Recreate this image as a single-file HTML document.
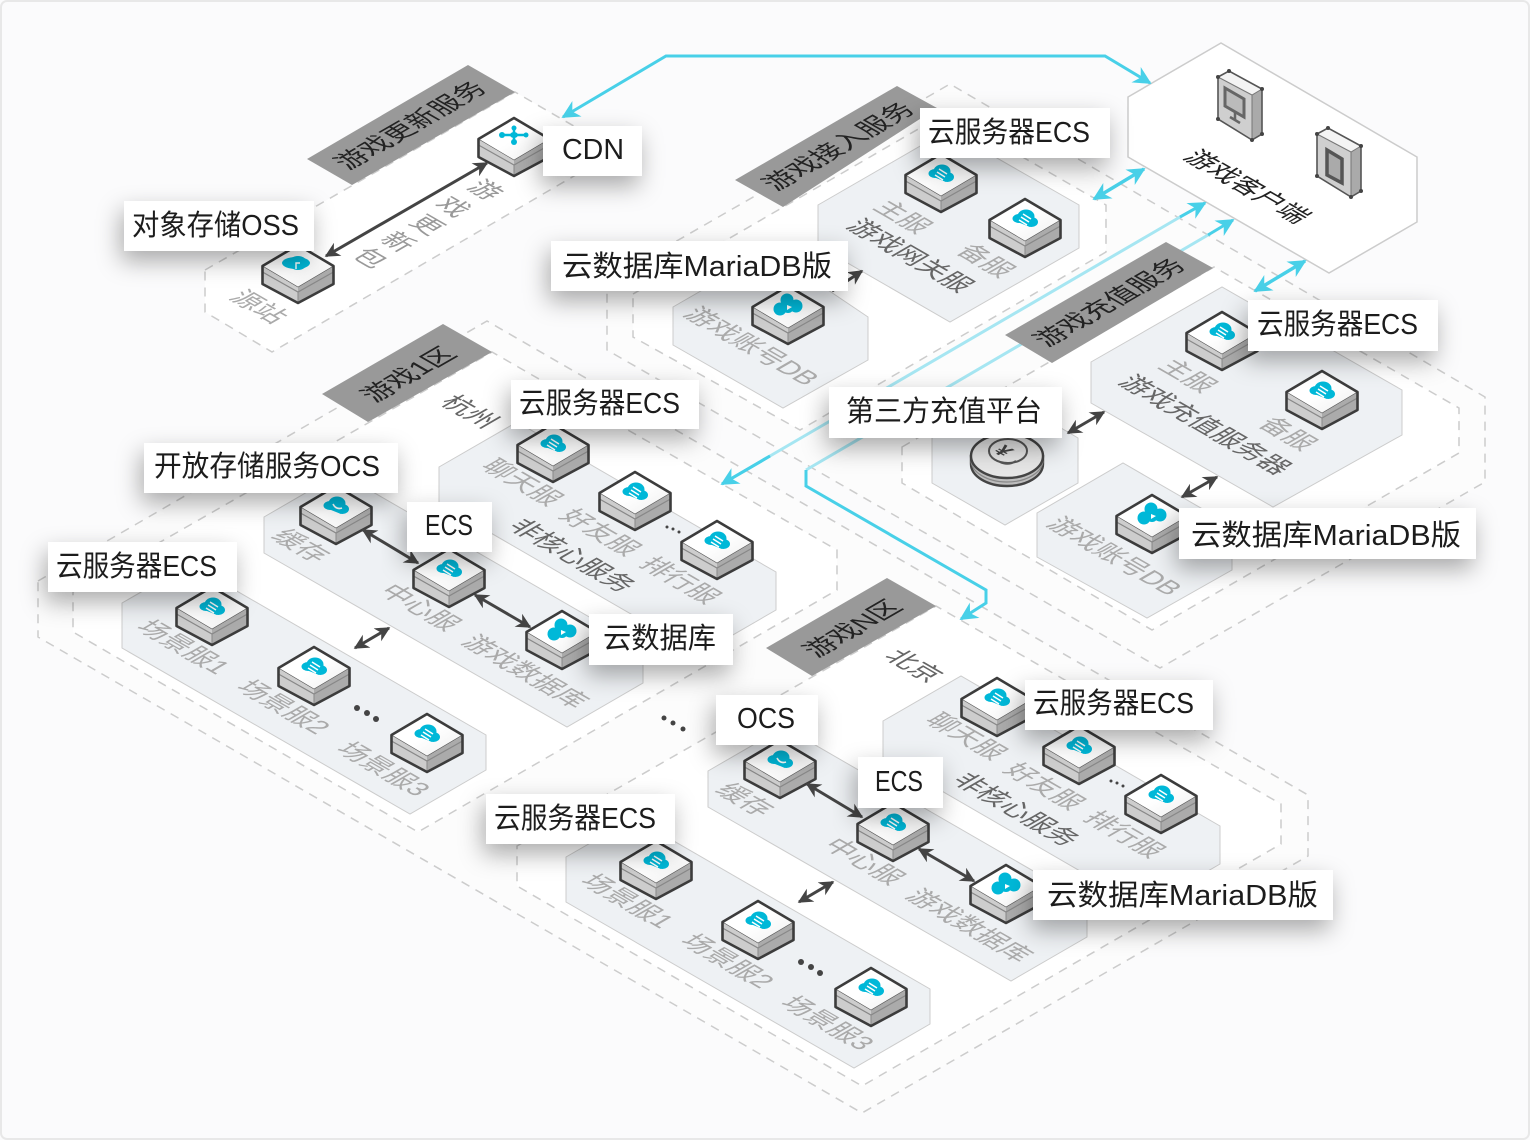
<!DOCTYPE html>
<html><head><meta charset="utf-8"><style>
html,body{margin:0;padding:0;background:#fbfbfc}
svg{display:block}
text{font-family:"Liberation Sans","Noto Sans CJK SC",sans-serif}
.l{font-size:29px;fill:#1c1c1c}
.f{font-size:26.5px;fill:#aaa}
.d{font-size:26.5px;fill:#666}
.b{font-size:27px;fill:#222;text-anchor:middle}
.dash{stroke:#ccc;stroke-width:1.5;stroke-dasharray:9 7}
.panel{fill:#eef1f4;stroke:#ccc;stroke-width:1}
</style></head><body>
<svg width="1530" height="1140" viewBox="0 0 1530 1140" xmlns="http://www.w3.org/2000/svg">
<defs>
<filter id="sh" x="-30%" y="-70%" width="160%" height="280%"><feDropShadow dx="-3" dy="10" stdDeviation="12" flood-color="#000" flood-opacity=".33"/></filter>
<marker id="ma" viewBox="0 0 10 10" refX="9" refY="5" markerWidth="20" markerHeight="15" markerUnits="userSpaceOnUse" orient="auto-start-reverse"><path d="M10,5L0,0L3,5L0,10z" fill="#444"/></marker>
<marker id="mc" viewBox="0 0 10 10" refX="9" refY="5" markerWidth="26" markerHeight="18" markerUnits="userSpaceOnUse" orient="auto-start-reverse"><path d="M10,5L0,0L3,5L0,10z" fill="#48d0e8"/></marker>
<linearGradient id="tf" x1="0" y1="0" x2="1" y2="1"><stop offset=".5" stop-color="#fff"/><stop offset="1" stop-color="#eee"/></linearGradient>
<g id="box">
<polygon points="-35.5,0 0,21 0,37 -35.5,18" fill="#cdcdcd"/>
<polygon points="35.5,0 0,21 0,37 35.5,18" fill="#ababab"/>
<polyline points="-35.5,6 0,26 35.5,6" fill="none" stroke="#888" stroke-width="1.2"/>
<line x1="0" y1="26" x2="0" y2="37" stroke="#888" stroke-width="1"/>
<polygon points="0,-21 35.5,0 0,21 -35.5,0" fill="url(#tf)" stroke="#555" stroke-width=".6"/>
<polygon points="0,-21 35.5,0 35.5,18 0,37 -35.5,18 -35.5,0" fill="none" stroke="#3c3c3c" stroke-width="2.6" stroke-linejoin="round"/>
</g>
<g id="cloud"><ellipse cx="1" cy="-3.5" rx="8.5" ry="7" fill="#00b8d8"/><ellipse cx="-6" cy="-1.5" rx="6.5" ry="4.5" fill="#00b8d8"/><ellipse cx="6.5" cy="2" rx="6.5" ry="5" fill="#00b8d8"/><polygon points="-10,1 0,-5 11,3 5,7" fill="#00b8d8"/></g>
<g id="srv"><use href="#box"/><use href="#cloud"/><path d="M-2,-6L6,-1M-4,-3L4,2M-6,0L2,5" stroke="#fff" stroke-width="1.5" fill="none"/></g>
<g id="ocs"><use href="#box"/><use href="#cloud"/><path d="M-3,-3Q0,3 6,1" stroke="#fff" stroke-width="1.6" fill="none"/></g>
<g id="oss"><use href="#box"/><ellipse cx="-2" cy="-3" rx="14" ry="6" fill="#00b8d8"/><ellipse cx="0" cy="-3" rx="9" ry="7" fill="#00b8d8"/><path d="M-2,3L-2,-3L2,-3" stroke="#fff" stroke-width="1.4" fill="none"/></g>
<g id="db"><use href="#box"/><circle cx="-1" cy="-7" r="6.5" fill="#00b8d8"/><circle cx="-8" cy="2" r="6.5" fill="#00b8d8"/><circle cx="8" cy="-1" r="6.5" fill="#00b8d8"/><circle cx="0" cy="0" r="6" fill="#00b8d8"/><path d="M-1,-2L4,0L-1,3z" fill="#fff"/></g>
<g id="net"><use href="#box"/><path d="M-12,-4L12,-4M0,-11L0,3" stroke="#00b8d8" stroke-width="2.5"/><ellipse cx="0" cy="-4" rx="4" ry="3" fill="#00b8d8"/><circle cx="-12" cy="-4" r="3" fill="#00b8d8"/><circle cx="12" cy="-4" r="2.5" fill="#00b8d8"/><circle cx="0" cy="-11" r="2.5" fill="#00b8d8"/><circle cx="0" cy="3" r="3" fill="#00b8d8"/></g>
<g id="dev">
<polygon points="0,0 34,18 34,63 0,42" fill="#cfcfcf"/><polygon points="34,18 44,12 44,57 34,63" fill="#aaa"/><polygon points="0,0 11,-6 44,12 34,18" fill="#f4f4f4"/>
<polygon points="0,0 11,-6 44,12 44,57 34,63 0,42" fill="none" stroke="#555" stroke-width="1.6"/><path d="M0,0L34,18L44,12M34,18L34,63" fill="none" stroke="#777" stroke-width="1"/>
<g fill="#444"><circle cx="0" cy="0" r="2"/><circle cx="11" cy="-6" r="2"/><circle cx="44" cy="12" r="2"/><circle cx="34" cy="63" r="2"/><circle cx="44" cy="57" r="2"/><circle cx="0" cy="42" r="2"/></g>
</g>
</defs>
<rect x="1" y="1" width="1528" height="1138" rx="6" fill="#fbfbfc" stroke="#e8e8e8" stroke-width="2"/>

<!-- zones -->
<polygon class="dash" fill="#fcfcfc" points="607,281 950,84 1485,397 1485,482 1160,668 607,350"/>
<polygon class="dash" fill="#fff" points="633,294 946,113 1106,205 1106,252 800,430 633,337"/>
<polygon class="dash" fill="#fff" points="902,447 1214,267 1459,408 1459,453 1152,630 902,483"/>
<polygon class="dash" fill="#fcfcfc" points="38,581 487,321 1308,795 1308,856 862,1113 38,637"/>
<polygon class="dash" fill="#fff" points="73,592 492,352 837,550 837,590 418,832 73,632"/>
<polygon class="dash" fill="#fff" points="517,846 936,606 1281,804 1281,844 862,1086 517,886"/>
<polygon class="dash" fill="#fff" points="205,270 515,92 610,147 610,155 272,352 205,312"/>
<polygon fill="#fff" stroke="#ccc" stroke-width="1.5" points="1128,97 1221,43 1417,157 1417,222 1329,273 1128,157"/>

<!-- panels -->
<polygon class="panel" points="818,205 948,130 1079,205 1079,248 950,322 818,246"/>
<polygon class="panel" points="673,307 770,251 868,317 868,360 783,408 673,345"/>
<polygon class="panel" points="1091,362 1222,287 1402,390 1402,435 1273,507 1091,403"/>
<polygon class="panel" points="1037,513 1123,463 1232,526 1232,570 1147,618 1037,557"/>
<polygon class="panel" points="932,438 1005,395 1078,438 1078,483 1005,525 932,483"/>
<g id="g1">
<polygon class="panel" points="439,467 517,422 776,572 776,610 700,654 439,503"/>
<polygon class="panel" points="264,517 340,473 643,648 643,683 567,727 264,553"/>
<polygon class="panel" points="122,603 190,564 486,735 486,770 410,814 122,648"/>
</g>
<g transform="translate(444,254)">
<polygon class="panel" points="439,467 517,422 776,572 776,610 700,654 439,503"/>
<polygon class="panel" points="264,517 340,473 643,648 643,683 567,727 264,553"/>
<polygon class="panel" points="122,603 190,564 486,735 486,770 410,814 122,648"/>
</g>

<!-- cyan long lines -->
<line x1="1180" y1="217" x2="770" y2="456" stroke="#a6e6f2" stroke-width="3"/>
<line x1="1205" y1="203" x2="1180" y2="217" stroke="#48d0e8" stroke-width="3"/>
<line x1="770" y1="456" x2="722" y2="484" stroke="#48d0e8" stroke-width="3"/>
<path d="M770,456L722,484" stroke="#48d0e8" stroke-width="3" marker-end="url(#mc)"/>
<path d="M1180,217L1205,203" stroke="#48d0e8" stroke-width="3" marker-end="url(#mc)"/>
<line x1="1208" y1="235" x2="806" y2="470" stroke="#a6e6f2" stroke-width="3"/>
<path d="M1208,235L1233,220" stroke="#48d0e8" stroke-width="3" marker-end="url(#mc)"/>
<path d="M806,470L806,486L986,590L986,603L961,619" fill="none" stroke="#48d0e8" stroke-width="3" marker-end="url(#mc)"/>
<path d="M563,117L666,56L1105,56L1150,83" fill="none" stroke="#48d0e8" stroke-width="3" marker-start="url(#mc)" marker-end="url(#mc)"/>
<path d="M1094,199L1144,169" stroke="#48d0e8" stroke-width="3.5" marker-start="url(#mc)" marker-end="url(#mc)"/>
<path d="M1255,291L1305,261" stroke="#48d0e8" stroke-width="3.5" marker-start="url(#mc)" marker-end="url(#mc)"/>

<!-- bands -->
<g fill="#999">
<polygon points="307,159 468,65 515,92 352,185"/>
<polygon points="735,180 897,86 937,108 783,207"/>
<polygon points="1005,335 1166,242 1213,268 1052,363"/>
<polygon points="322,394 443,324 492,352 368,422"/>
<polygon points="766,648 887,578 936,606 812,676"/>
</g>
<text class="b" transform="matrix(.866,-.5,.866,.5,410,125)" y="10">游戏更新服务</text>
<text class="b" transform="matrix(.866,-.5,.866,.5,838,146)" y="10">游戏接入服务</text>
<text class="b" transform="matrix(.866,-.5,.866,.5,1109,302)" y="10">游戏充值服务</text>
<text class="b" transform="matrix(.866,-.5,.866,.5,408,374)" y="10">游戏1区</text>
<text class="b" transform="matrix(.866,-.5,.866,.5,852,628)" y="10">游戏N区</text>

<!-- devices -->
<use href="#dev" x="1218" y="77"/>
<use href="#dev" x="1317" y="134"/>
<polygon points="1225,88 1244,99 1244,117 1225,106" fill="#bbb" stroke="#666" stroke-width="3"/>
<path d="M1235,112L1235,120M1230,117L1240,123" stroke="#666" stroke-width="2.5"/>
<polygon points="1327,150 1342,159 1342,183 1327,175" fill="#aaa" stroke="#555" stroke-width="3.5"/>

<!-- boxes -->
<use href="#net" x="514" y="139"/>
<use href="#oss" x="298" y="266"/>
<use href="#srv" x="941" y="175"/>
<use href="#srv" x="1025" y="220"/>
<use href="#db" x="788" y="307"/>
<use href="#srv" x="1222" y="333"/>
<use href="#srv" x="1322" y="392"/>
<use href="#db" x="1152" y="516"/>
<g id="boxes1">
<use href="#srv" x="553" y="445"/><use href="#srv" x="635" y="493"/><use href="#srv" x="717" y="542"/>
<use href="#ocs" x="336" y="507"/><use href="#srv" x="449" y="570"/><use href="#db" x="562" y="632"/>
<use href="#srv" x="212" y="608"/><use href="#srv" x="314" y="668"/><use href="#srv" x="427" y="735"/>
</g>
<g transform="translate(444,254)">
<use href="#srv" x="553" y="445"/><use href="#srv" x="635" y="493"/><use href="#srv" x="717" y="542"/>
<use href="#ocs" x="336" y="507"/><use href="#srv" x="449" y="570"/><use href="#db" x="562" y="632"/>
<use href="#srv" x="212" y="608"/><use href="#srv" x="314" y="668"/><use href="#srv" x="427" y="735"/>
</g>

<!-- coin -->
<path d="M971,456L971,464A36,22 0 0 0 1043,464L1043,456z" fill="#bdbdbd" stroke="#444" stroke-width="2.4"/>
<path d="M971,460A36,22 0 0 0 1043,460" fill="none" stroke="#888" stroke-width="1.2"/>
<ellipse cx="1007" cy="456" rx="36" ry="22" fill="#e6e6e6" stroke="#444" stroke-width="2.4"/>
<ellipse cx="1008" cy="451" rx="19" ry="12" fill="none" stroke="#555" stroke-width="2"/>
<path d="M1000,462Q1008,466 1016,461" stroke="#555" stroke-width="2" fill="none"/>
<text transform="matrix(.866,.5,-.866,.5,1000,447)" y="9" style="font-size:21px;font-weight:bold;fill:#444">¥</text>

<!-- dots -->
<g fill="#444"><circle cx="357" cy="708" r="3"/><circle cx="367" cy="713" r="3"/><circle cx="376" cy="719" r="3"/>
<circle cx="801" cy="962" r="3"/><circle cx="811" cy="967" r="3"/><circle cx="820" cy="973" r="3"/>
<circle cx="664" cy="718" r="2.5"/><circle cx="673" cy="723" r="2.5"/><circle cx="683" cy="729" r="2.5"/>
<circle cx="667" cy="527" r="1.5"/><circle cx="673" cy="529" r="1.5"/><circle cx="679" cy="532" r="1.5"/>
<circle cx="1111" cy="781" r="1.5"/><circle cx="1117" cy="783" r="1.5"/><circle cx="1123" cy="786" r="1.5"/></g>

<!-- floor labels -->
<g>
<text class="f" transform="matrix(.866,.5,-.866,.5,228,298)">源站</text>
<text class="f" style="fill:#999" text-anchor="middle" transform="matrix(.866,.5,-.866,.5,485,190)" y="9">游</text>
<text class="f" style="fill:#999" text-anchor="middle" transform="matrix(.866,.5,-.866,.5,453,207)" y="9">戏</text>
<text class="f" style="fill:#999" text-anchor="middle" transform="matrix(.866,.5,-.866,.5,427,225)" y="9">更</text>
<text class="f" style="fill:#999" text-anchor="middle" transform="matrix(.866,.5,-.866,.5,398,242)" y="9">新</text>
<text class="f" style="fill:#999" text-anchor="middle" transform="matrix(.866,.5,-.866,.5,370,258)" y="9">包</text>
<text class="f" transform="matrix(.866,.5,-.866,.5,872,208)">主服</text>
<text class="d" transform="matrix(.866,.5,-.866,.5,845,227)">游戏网关服</text>
<text class="f" transform="matrix(.866,.5,-.866,.5,955,252)">备服</text>
<text class="f" transform="matrix(.866,.5,-.866,.5,682,315)">游戏账号DB</text>
<text class="f" transform="matrix(.866,.5,-.866,.5,1157,367)">主服</text>
<text class="d" transform="matrix(.866,.5,-.866,.5,1117,383)">游戏充值服务器</text>
<text class="f" transform="matrix(.866,.5,-.866,.5,1257,425)">备服</text>
<text class="f" transform="matrix(.866,.5,-.866,.5,1045,525)">游戏账号DB</text>
<text class="d" style="fill:#222" transform="matrix(.866,.5,-.866,.5,1182,158)">游戏客户端</text>

<text class="d" transform="matrix(.866,.5,-.866,.5,439,403)">杭州</text>
<text class="f" transform="matrix(.866,.5,-.866,.5,270,537)">缓存</text>
<text class="f" transform="matrix(.866,.5,-.866,.5,378,592)">中心服</text>
<text class="f" transform="matrix(.866,.5,-.866,.5,460,643)">游戏数据库</text>
<text class="f" transform="matrix(.866,.5,-.866,.5,135,628)">场景服1</text>
<text class="f" transform="matrix(.866,.5,-.866,.5,235,688)">场景服2</text>
<text class="f" transform="matrix(.866,.5,-.866,.5,335,750)">场景服3</text>
<text class="f" transform="matrix(.866,.5,-.866,.5,480,467)">聊天服</text>
<text class="f" transform="matrix(.866,.5,-.866,.5,558,517)">好友服</text>
<text class="d" transform="matrix(.866,.5,-.866,.5,507,527)">非核心服务</text>
<text class="f" transform="matrix(.866,.5,-.866,.5,638,565)">排行服</text>

<text class="d" transform="matrix(.866,.5,-.866,.5,883,657)">北京</text>
<text class="f" transform="matrix(.866,.5,-.866,.5,714,791)">缓存</text>
<text class="f" transform="matrix(.866,.5,-.866,.5,822,846)">中心服</text>
<text class="f" transform="matrix(.866,.5,-.866,.5,904,897)">游戏数据库</text>
<text class="f" transform="matrix(.866,.5,-.866,.5,579,882)">场景服1</text>
<text class="f" transform="matrix(.866,.5,-.866,.5,679,942)">场景服2</text>
<text class="f" transform="matrix(.866,.5,-.866,.5,779,1004)">场景服3</text>
<text class="f" transform="matrix(.866,.5,-.866,.5,924,721)">聊天服</text>
<text class="f" transform="matrix(.866,.5,-.866,.5,1002,771)">好友服</text>
<text class="d" transform="matrix(.866,.5,-.866,.5,951,781)">非核心服务</text>
<text class="f" transform="matrix(.866,.5,-.866,.5,1082,819)">排行服</text>
</g>

<!-- dark arrows -->
<g stroke="#444" stroke-width="3" fill="none">
<path d="M326,256L487,163" marker-start="url(#ma)" marker-end="url(#ma)"/>
<path d="M832,291L862,271" marker-end="url(#ma)"/>
<path d="M1068,433L1104,412" marker-start="url(#ma)" marker-end="url(#ma)"/>
<path d="M1182,497L1217,477" marker-start="url(#ma)" marker-end="url(#ma)"/>
<path d="M363,530L418,563" marker-start="url(#ma)" marker-end="url(#ma)"/>
<path d="M475,595L530,627" marker-start="url(#ma)" marker-end="url(#ma)"/>
<path d="M355,648L389,628" marker-start="url(#ma)" marker-end="url(#ma)"/>
<path d="M807,784L862,817" marker-start="url(#ma)" marker-end="url(#ma)"/>
<path d="M919,849L974,881" marker-start="url(#ma)" marker-end="url(#ma)"/>
<path d="M799,902L833,882" marker-start="url(#ma)" marker-end="url(#ma)"/>
</g>

<!-- white labels -->
<g fill="#fff" filter="url(#sh)"><rect x="124" y="201" width="190" height="50"/></g>
<g fill="#fff" filter="url(#sh)"><rect x="543" y="126" width="99" height="50"/></g>
<g fill="#fff" filter="url(#sh)"><rect x="920" y="108" width="190" height="50"/></g>
<g fill="#fff" filter="url(#sh)"><rect x="551" y="241" width="297" height="50"/></g>
<g fill="#fff" filter="url(#sh)"><rect x="1248" y="300" width="190" height="51"/></g>
<g fill="#fff" filter="url(#sh)"><rect x="829" y="387" width="233" height="51"/></g>
<g fill="#fff" filter="url(#sh)"><rect x="1179" y="508" width="297" height="51"/></g>
<g fill="#fff" filter="url(#sh)"><rect x="511" y="380" width="188" height="49"/></g>
<g fill="#fff" filter="url(#sh)"><rect x="144" y="443" width="254" height="50"/></g>
<g fill="#fff" filter="url(#sh)"><rect x="407" y="502" width="85" height="50"/></g>
<g fill="#fff" filter="url(#sh)"><rect x="48" y="542" width="189" height="50"/></g>
<g fill="#fff" filter="url(#sh)"><rect x="589" y="614" width="144" height="51"/></g>
<g fill="#fff" filter="url(#sh)"><rect x="716" y="695" width="102" height="50"/></g>
<g fill="#fff" filter="url(#sh)"><rect x="858" y="757" width="85" height="51"/></g>
<g fill="#fff" filter="url(#sh)"><rect x="1025" y="680" width="188" height="50"/></g>
<g fill="#fff" filter="url(#sh)"><rect x="1033" y="870" width="300" height="50"/></g>
<g fill="#fff" filter="url(#sh)"><rect x="486" y="794" width="189" height="50"/></g>

<text class="l" x="132" y="235" textLength="167" lengthAdjust="spacingAndGlyphs">对象存储OSS</text>
<text class="l" x="562" y="159" textLength="62" lengthAdjust="spacingAndGlyphs">CDN</text>
<text class="l" x="928" y="142" textLength="162" lengthAdjust="spacingAndGlyphs">云服务器ECS</text>
<text class="l" x="562" y="276" textLength="270" lengthAdjust="spacingAndGlyphs">云数据库MariaDB版</text>
<text class="l" x="1257" y="334" textLength="161" lengthAdjust="spacingAndGlyphs">云服务器ECS</text>
<text class="l" x="846" y="421" textLength="196" lengthAdjust="spacingAndGlyphs">第三方充值平台</text>
<text class="l" x="1191" y="545" textLength="270" lengthAdjust="spacingAndGlyphs">云数据库MariaDB版</text>
<text class="l" x="519" y="413" textLength="161" lengthAdjust="spacingAndGlyphs">云服务器ECS</text>
<text class="l" x="154" y="476" textLength="226" lengthAdjust="spacingAndGlyphs">开放存储服务OCS</text>
<text class="l" x="425" y="535" textLength="48" lengthAdjust="spacingAndGlyphs">ECS</text>
<text class="l" x="56" y="576" textLength="161" lengthAdjust="spacingAndGlyphs">云服务器ECS</text>
<text class="l" x="603" y="648" textLength="113" lengthAdjust="spacingAndGlyphs">云数据库</text>
<text class="l" x="737" y="728" textLength="58" lengthAdjust="spacingAndGlyphs">OCS</text>
<text class="l" x="875" y="791" textLength="48" lengthAdjust="spacingAndGlyphs">ECS</text>
<text class="l" x="1033" y="713" textLength="161" lengthAdjust="spacingAndGlyphs">云服务器ECS</text>
<text class="l" x="1047" y="905" textLength="271" lengthAdjust="spacingAndGlyphs">云数据库MariaDB版</text>
<text class="l" x="494" y="828" textLength="162" lengthAdjust="spacingAndGlyphs">云服务器ECS</text>
</svg>
</body></html>
